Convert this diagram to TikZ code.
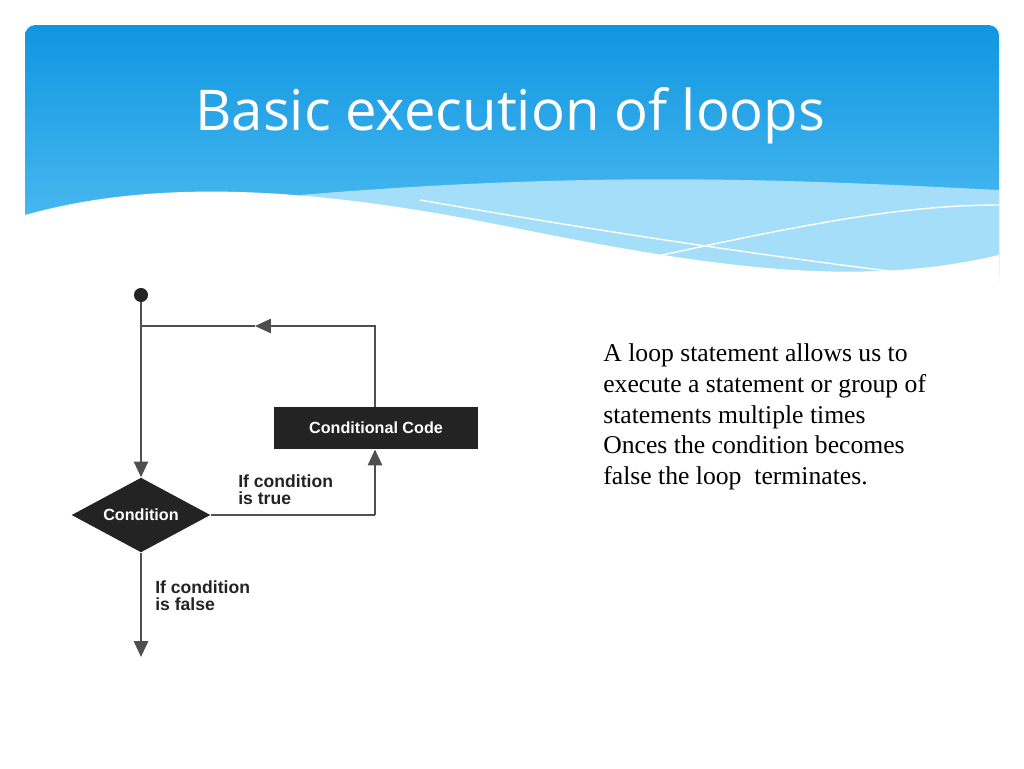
\documentclass[tikz,border=0pt]{standalone}
\usepackage{fontspec}
\setmainfont{Liberation Serif}
\newfontfamily\titlefont{Open Sans}
\newfontfamily\flowfont{Liberation Sans}
\usetikzlibrary{shapes.geometric,arrows.meta,positioning}
\definecolor{skytop}{RGB}{16,150,224}
\definecolor{skybot}{RGB}{90,195,245}
\definecolor{flowdark}{RGB}{35,35,35}
\tikzset{
  flowline/.style = {draw=flowdark!80, line width=1.3pt},
  flowarrow/.style = {flowline, -{Triangle[length=9pt,width=8pt]}},
  flowlabel/.style = {font=\flowfont\bfseries\fontsize{10}{10}\selectfont, text=flowdark, align=left, anchor=north west, inner sep=0pt},
  flowinner/.style = {fill=flowdark, text=white, inner sep=0pt, font=\flowfont\bfseries\fontsize{9.2}{10}\selectfont},
}
\begin{document}
\begin{tikzpicture}[x=0.02cm, y=-0.02cm]
\useasboundingbox (0,0) rectangle (1024,768);
\fill[white] (0,0) rectangle (1024,768);
% header band
\shade[top color=skytop, bottom color=skybot, rounded corners=6pt] (25,25) rectangle (999,285);
\fill[skybot!55!white] (300,195) .. controls (600,170) and (800,180) .. (999,190) -- (999,285) -- (300,285) -- cycle;
\fill[white] (25,215) .. controls (150,180) and (300,185) .. (500,225)
  .. controls (700,265) and (850,290) .. (999,255) -- (999,290) -- (25,290) -- cycle;
\draw[white, line width=0.8pt] (420,200) .. controls (650,240) and (800,260) .. (920,275);
\draw[white, line width=0.8pt] (630,262) .. controls (800,225) and (900,205) .. (999,205);
\node[text=white, font=\titlefont\fontsize{32}{36}\selectfont, anchor=base west, inner sep=0pt] (title) at (195,130) {Basic execution of loops};
% flowchart
\node[circle, fill=flowdark, inner sep=0pt, minimum size=8pt] (start) at (141,295) {};
\node[diamond, flowinner, aspect=1.85, minimum width=79pt, minimum height=42.5pt] (cond) at (141,515) {Condition};
\node[rectangle, flowinner, minimum width=116pt, minimum height=24pt] (code) at (376,428) {Conditional Code};
\coordinate (topleft) at (141,326);
\coordinate (topright) at (375,326);
\coordinate (topmid) at (255,326);
\coordinate (trueturn) at (375,515);
\coordinate (endpt) at (141,657);
\draw[flowarrow] (start) -- (cond.north);
\draw[flowarrow] (code.north -| topright) -- (topright) -- (topmid);
\draw[flowline] (topmid) -- (topleft);
\draw[flowline] (cond.east) -- (trueturn);
\draw[flowarrow] (trueturn) -- (code.south -| trueturn);
\draw[flowarrow] (cond.south) -- (endpt);
\node[flowlabel] (truelbl) at (238,474) {If condition\\is true};
\node[flowlabel] (falselbl) at (155,580) {If condition\\is false};
% text
\node[anchor=north west, align=left, inner sep=0pt, font=\fontsize{14.6}{17.6}\selectfont] (desc) at (603,343)
  {A loop statement allows us to\\execute a statement or group of\\statements multiple times\\Onces the condition becomes\\false the loop\ \ terminates.};
\end{tikzpicture}
\end{document}
